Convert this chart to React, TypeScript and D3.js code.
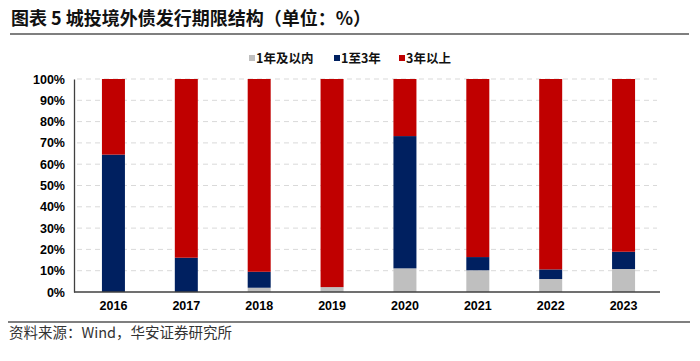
import { useRef, useEffect } from 'react';
import * as d3 from 'd3';

const years = ['2016', '2017', '2018', '2019', '2020', '2021', '2022', '2023'];
// share of issuance by maturity (%)
const withinOneYear = [0, 0, 2.0, 2.3, 11.1, 10.2, 6.1, 10.8];
const oneToThree = [64.5, 16.1, 7.5, 0, 62.1, 6.2, 4.5, 8.1];
const overThree = [35.5, 83.9, 90.5, 97.7, 26.8, 83.6, 89.4, 81.1];
const seriesNames = ['1年及以内', '1至3年', '3年以上'];
const seriesColors = ['#bfbfbf', '#002060', '#c00000'];
const yTicks = [0, 10, 20, 30, 40, 50, 60, 70, 80, 90, 100];

const W = 700;
const H = 361;

export default function App() {
  const svgRef = useRef<SVGSVGElement>(null);

  useEffect(() => {
    if (!svgRef.current) return;
    const svg = d3.select(svgRef.current);
    svg.selectAll('*').remove();

    const left = 77;
    const right = 660;
    const top = 79;
    const bottom = 292;

    // Title
    svg.append('text')
      .attr('x', 11)
      .attr('y', 25)
      .attr('font-family', '"Noto Sans CJK SC", sans-serif')
      .attr('font-size', 18)
      .attr('font-weight', 'bold')
      .attr('fill', '#111')
      .text('图表 5 城投境外债发行期限结构（单位：%）');

    svg.append('line')
      .attr('x1', 10).attr('x2', 689)
      .attr('y1', 34).attr('y2', 34)
      .attr('stroke', '#555').attr('stroke-width', 1.5);

    const x = d3.scaleBand().domain(years).range([left, right]).padding(0);
    const y = d3.scaleLinear().domain([0, 100]).range([bottom, top]);
    const barW = 23;

    // Grid
    svg.append('g')
      .selectAll('line')
      .data(yTicks.filter((t) => t > 0))
      .join('line')
      .attr('x1', left)
      .attr('x2', right - 3)
      .attr('y1', (d) => y(d))
      .attr('y2', (d) => y(d))
      .attr('stroke', '#d9d9d9')
      .attr('stroke-dasharray', '5,4')
      .attr('stroke-width', 1);

    // Stacked bars
    const rows = years.map((yr, i) => ({
      year: yr,
      a: withinOneYear[i],
      b: oneToThree[i],
      c: overThree[i],
    }));
    const stack = d3.stack<any>().keys(['a', 'b', 'c']);
    const layers = stack(rows);

    svg.append('g')
      .selectAll('g')
      .data(layers)
      .join('g')
      .attr('fill', (_, i) => seriesColors[i])
      .selectAll('rect')
      .data((d) => d)
      .join('rect')
      .attr('x', (d) => (x(d.data.year) || 0) + x.bandwidth() / 2 - barW / 2)
      .attr('y', (d) => y(d[1]))
      .attr('width', barW)
      .attr('height', (d) => y(d[0]) - y(d[1]));

    // Y axis
    const yAxis = svg.append('g')
      .attr('transform', `translate(${left - 3},0)`)
      .call(d3.axisLeft(y).tickValues(yTicks).tickSize(0).tickPadding(9).tickFormat((d) => `${d}%`));
    yAxis.select('.domain').attr('stroke', '#404040').attr('stroke-width', 1.3);
    yAxis.selectAll('text')
      .attr('font-family', 'Arial, "Liberation Sans", sans-serif')
      .attr('font-size', 12.5)
      .attr('font-weight', 'bold')
      .attr('fill', '#000');

    // X axis
    const xAxis = svg.append('g')
      .attr('transform', `translate(0,${bottom})`)
      .call(d3.axisBottom(x).tickSize(0).tickPadding(9));
    xAxis.select('.domain').remove();
    svg.append('line')
      .attr('x1', left - 3).attr('x2', right)
      .attr('y1', bottom).attr('y2', bottom)
      .attr('stroke', '#404040').attr('stroke-width', 1.3);
    xAxis.selectAll('text')
      .attr('font-family', 'Arial, "Liberation Sans", sans-serif')
      .attr('font-size', 12.5)
      .attr('font-weight', 'bold')
      .attr('fill', '#000');

    // Legend
    const legendX = [249, 334, 399];
    const legend = svg.append('g')
      .selectAll('g')
      .data(seriesNames)
      .join('g')
      .attr('transform', (_, i) => `translate(${legendX[i]},58)`);
    legend.append('rect')
      .attr('x', 0).attr('y', -3)
      .attr('width', 6).attr('height', 6)
      .attr('fill', (_, i) => seriesColors[i]);
    legend.append('text')
      .attr('x', 7)
      .attr('y', 4.5)
      .attr('font-family', '"Noto Sans CJK SC", sans-serif')
      .attr('font-size', 12.5)
      .attr('font-weight', 'bold')
      .attr('fill', '#111')
      .text((d) => d);

    // Footer
    svg.append('line')
      .attr('x1', 8).attr('x2', 690)
      .attr('y1', 322).attr('y2', 322)
      .attr('stroke', '#555').attr('stroke-width', 1.5);
    svg.append('text')
      .attr('x', 9)
      .attr('y', 338)
      .attr('font-family', '"Noto Sans CJK SC", sans-serif')
      .attr('font-size', 14.5)
      .attr('fill', '#333')
      .text('资料来源：Wind，华安证券研究所');
  }, []);

  return (
    <svg
      ref={svgRef}
      width={W}
      height={H}
      style={{ position: 'absolute', left: 0, top: 0, background: '#fff' }}
    />
  );
}
